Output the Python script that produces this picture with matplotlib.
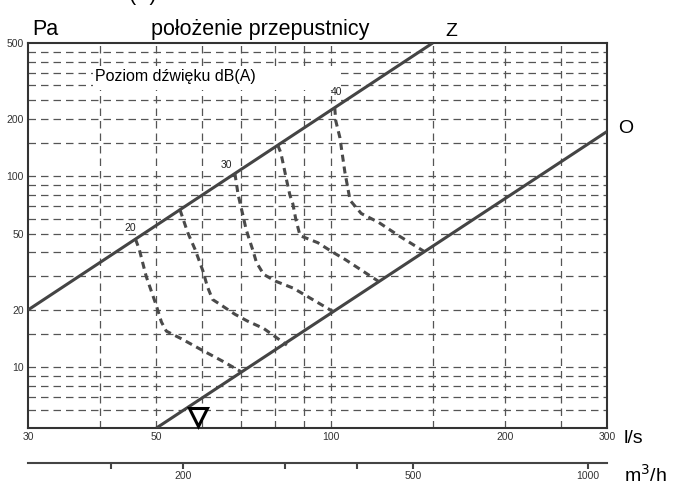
"""
Damper chart: pressure drop (Pa) vs air flow (l/s, m3/h), log-log,
with sound level curves between the closed (Z) and open (O) damper lines.
"""

import matplotlib
matplotlib.use("Agg")
import matplotlib.pyplot as plt
from matplotlib.patches import Rectangle
from matplotlib.ticker import NullLocator

plt.rcParams['font.family'] = ['Liberation Sans', 'DejaVu Sans']

# axis ticks and grid
flow_ticks = [30, 50, 100, 200, 300]
pa_ticks = [10, 20, 50, 100, 200, 500]
grid_flow = [40, 50, 60, 70, 80, 90, 100, 150, 200, 250]
grid_pa = [6, 7, 8, 9, 10, 15, 20, 30, 40, 50, 60, 70, 80, 90,
           100, 150, 200, 250, 300, 350, 400, 450]
m3h_ticks = [150, 200, 300, 400, 500, 1000]
m3h_labels = ['', '200', '', '', '500', '1000']

# damper positions: Z (closed) and O (open)
z_flow = [30, 150]
z_pa = [20, 500]
o_flow = [50, 300]
o_pa = [4.82, 172]

# sound level curves dB(A)
c20_flow = [46, 46.7, 48, 50, 51, 52, 55.3, 60, 65, 70]
c20_pa = [47, 41.5, 30, 21, 17.3, 15.5, 14.1, 12.3, 10.8, 9.5]
c25_flow = [54.9, 56.6, 58.3, 60.2, 61.2, 62.5, 65, 68.3, 71.8, 76.6, 84]
c25_pa = [67, 51, 41.5, 31.8, 26.6, 22.7, 21, 19, 17.5, 16, 13.1]
c30_flow = [68.3, 69.2, 70.5, 71.4, 72.3, 73.5, 74.4, 76.6, 80.3, 86.2, 93.7, 101]
c30_pa = [104, 80, 63, 53, 47, 40.4, 35.5, 30.7, 28.3, 26, 22.4, 19.6]
c35_flow = [81, 82, 83, 84, 85, 86, 87, 88.5, 95, 101, 106, 121]
c35_pa = [146, 133, 112, 94, 80, 72, 60, 49, 45, 40, 36.7, 28.2]
c40_flow = [101.6, 102, 103.7, 105.8, 108, 112.9, 121, 131, 145]
c40_pa = [229, 196, 160, 105, 75, 64, 57.5, 49, 40.5]

curve_labels = ['20', '30', '40']
label_flow = [45, 66, 102.5]
label_pa = [54, 115, 276]

marker_flow = [59]
marker_pa = [5.5]

W, H = 683, 487


def fx(x):
    return x / W


def fy(y):
    return 1 - y / H


fig = plt.figure(figsize=(W / 100, H / 100), dpi=100)
ax = fig.add_axes([fx(28), fy(428), (607 - 28) / W, (428 - 43) / H])
ax.set_xscale('log')
ax.set_yscale('log')
ax.set_xlim(30, 300)
ax.set_ylim(4.82, 500)

grid_style = dict(color='#555555', lw=0.9, ls=(0, (6, 4)), zorder=1)
for g in grid_flow:
    ax.axvline(g, **grid_style)
for g in grid_pa:
    ax.axhline(g, **grid_style)

# white box behind the legend text
ax.add_patch(Rectangle(((93 - 28) / 579, (428 - 90) / 385), (338 - 93) / 579,
                       (90 - 66) / 385, transform=ax.transAxes,
                       facecolor='white', edgecolor='none', zorder=1.5))
ax.text((95 - 28) / 579, (428 - 76) / 385, 'Poziom dźwięku dB(A)',
        transform=ax.transAxes, ha='left', va='center', fontsize=11.5, zorder=2)

ax.plot(z_flow, z_pa, color='#444444', lw=2.2, zorder=3, solid_capstyle='butt')
ax.plot(o_flow, o_pa, color='#444444', lw=2.2, zorder=3, solid_capstyle='butt')

dash = dict(color='#4a4a4a', lw=2.2, ls=(0, (2.3, 1.6)), zorder=3)
for fl, pa in [(c20_flow, c20_pa), (c25_flow, c25_pa), (c30_flow, c30_pa),
               (c35_flow, c35_pa), (c40_flow, c40_pa)]:
    ax.plot(fl, pa, **dash)

for lab, fl, pa in zip(curve_labels, label_flow, label_pa):
    ax.text(fl, pa, lab, fontsize=7.5, ha='center', va='center',
            color='#222222', zorder=4)

ax.plot(marker_flow, marker_pa, marker='v', markersize=13, mfc='white',
        mec='black', mew=2.2, ls='none', zorder=5, clip_on=False)

ax.xaxis.set_minor_locator(NullLocator())
ax.yaxis.set_minor_locator(NullLocator())
ax.set_xticks(flow_ticks, [str(t) for t in flow_ticks])
ax.set_yticks(pa_ticks, [str(t) for t in pa_ticks])
ax.tick_params(length=0, labelsize=7.5, labelcolor='#333333', pad=3)
for sp in ax.spines.values():
    sp.set_color('#333333')
    sp.set_linewidth(1.5)

# second flow axis in m3/h
ax2 = fig.add_axes([fx(28), fy(463), (607 - 28) / W, 0.0001])
ax2.set_xscale('log')
ax2.set_xlim(30 * 3.6, 300 * 3.6)
ax2.set_yticks([])
ax2.xaxis.set_minor_locator(NullLocator())
ax2.set_xticks(m3h_ticks, m3h_labels)
ax2.tick_params(axis='x', direction='out', length=4, width=1.5,
                color='#444444', labelsize=7.5, labelcolor='#333333', pad=2)
for name, sp in ax2.spines.items():
    sp.set_visible(name == 'bottom')
ax2.spines['bottom'].set_color('#444444')
ax2.spines['bottom'].set_linewidth(1.5)
ax2.patch.set_visible(False)

# labels around the plot
fig.text(fx(32), fy(35), 'Pa', fontsize=15.5, va='baseline', ha='left')
fig.text(fx(260), fy(35), 'położenie przepustnicy', fontsize=15.5,
         va='baseline', ha='center')
fig.text(fx(451), fy(36.5), 'Z', fontsize=14, va='baseline', ha='center')
fig.text(fx(618), fy(133), 'O', fontsize=14, va='baseline', ha='left')
fig.text(fx(624), fy(443), 'l/s', fontsize=14, va='baseline', ha='left')
fig.text(fx(624), fy(482), 'm$^3$/h', fontsize=14, va='baseline', ha='left')
fig.text(fx(143), fy(0), '(A)', fontsize=15.5, va='baseline', ha='center')

fig.savefig('out.png', dpi=100)
